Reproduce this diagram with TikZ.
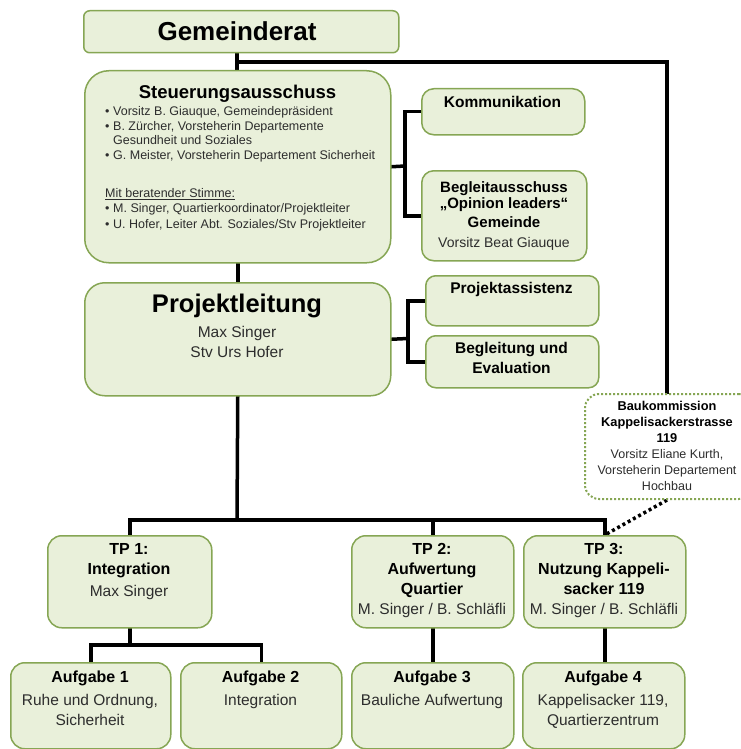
\documentclass[tikz,border=0pt]{standalone}
\usepackage{fontspec}
\setmainfont{Liberation Sans}
\usetikzlibrary{calc,backgrounds}
\definecolor{boxfill}{RGB}{233,240,218}
\definecolor{boxline}{RGB}{134,166,84}
\definecolor{txtgray}{RGB}{45,45,45}
\newcommand\stbul{\makebox[8pt][l]{\textbullet}}
\newcommand\bhd[1]{{\color{black}\bfseries #1}}
\begin{document}
\begin{tikzpicture}[x=1pt,y=-1pt,
  box/.style={draw=boxline, fill=boxfill, line width=1.5pt, rounded corners=#1, inner sep=0pt, anchor=north west},
  box/.default=12pt,
  txt/.style={inner sep=0pt, anchor=north, align=center, text=txtgray, font=\fontsize{15.5}{20}\selectfont},
  conn/.style={draw=black, line width=3.5pt, line join=miter, line cap=rect},
  dotconn/.style={draw=black, line width=3.5pt, dash pattern=on 3pt off 3pt}]
\useasboundingbox (0,0) rectangle (740,749);

% boxes
\node[box=6pt, minimum width=315pt, minimum height=42pt] (gem) at (83,10) {};
\node[box=24pt, minimum width=306pt, minimum height=192pt] (st) at (84,70) {};
\node[box=12pt, minimum width=163pt, minimum height=46pt] (kom) at (421,88) {};
\node[box=12pt, minimum width=165pt, minimum height=90pt] (beg) at (421,170) {};
\node[box=20pt, minimum width=306pt, minimum height=113pt] (pl) at (84,282) {};
\node[box=10pt, minimum width=173pt, minimum height=50pt] (pa) at (425,275) {};
\node[box=10pt, minimum width=173pt, minimum height=52pt] (be) at (425,335) {};
\node[draw=boxline, fill=white, dotted, line width=2pt, rounded corners=14pt, minimum width=168pt, minimum height=105pt, anchor=north west, inner sep=0pt] (bau) at (584,393) {};
\node[box=14pt, minimum width=164pt, minimum height=92pt] (tp1) at (47,535) {};
\node[box=14pt, minimum width=162pt, minimum height=92pt] (tp2) at (351,535) {};
\node[box=14pt, minimum width=162pt, minimum height=92pt] (tp3) at (523,535) {};
\node[box=14pt, minimum width=160pt, minimum height=86pt] (a1) at (10,662) {};
\node[box=14pt, minimum width=161pt, minimum height=86pt] (a2) at (180,662) {};
\node[box=14pt, minimum width=162pt, minimum height=86pt] (a3) at (351,662) {};
\node[box=14pt, minimum width=162pt, minimum height=86pt] (a4) at (522,662) {};

% texts
\node[txt, font=\fontsize{26}{30}\selectfont] (gemT) at (237,21.4) {\bhd{Gemeinderat}};
\node[txt, font=\fontsize{18.5}{22}\selectfont] (stT) at (237.5,84.7) {\bhd{Steuerungsausschuss}};
\node[inner sep=0pt, anchor=north west, align=left, text=txtgray, font=\fontsize{12.5}{13.5}\selectfont] (stL) at (105,106) {%
\stbul Vorsitz B. Giauque, Gemeindepräsident\\[2pt]
\stbul B. Zürcher, Vorsteherin Departemente\\
\hspace*{8pt}Gesundheit und Soziales\\[2pt]
\stbul G. Meister, Vorsteherin Departement Sicherheit\\[24pt]
\underline{Mit beratender Stimme:}\\[2pt]
\stbul M. Singer, Quartierkoordinator/Projektleiter\\[2pt]
\stbul U. Hofer, Leiter Abt. Soziales/Stv Projektleiter};
\node[txt] (komT) at (502.5,96) {\bhd{Kommunikation}};
\node[txt, font=\fontsize{14}{18}\selectfont] (begT) at (504,181) {{\fontsize{15}{18}\selectfont\bhd{Begleitausschuss}}\\[-2pt]
{\fontsize{15}{18}\selectfont\bhd{„Opinion leaders“}}\\[1pt]
{\fontsize{15}{18}\selectfont\bhd{Gemeinde}}\\[2pt]
Vorsitz Beat Giauque};
\node[txt] (plT) at (237,293.7) {{\fontsize{25.5}{28}\selectfont\bhd{Projektleitung}}\\[5pt]
Max Singer\\ Stv Urs Hofer};
\node[txt] (paT) at (511.5,282) {\bhd{Projektassistenz}};
\node[txt] (beT) at (511.5,342) {\bhd{Begleitung und}\\ \bhd{Evaluation}};
\node[txt, font=\fontsize{12.5}{16}\selectfont] (bauT) at (667,401) {{\fontsize{12.8}{16}\selectfont\bhd{Baukommission}}\\
{\fontsize{12.8}{16}\selectfont\bhd{Kappelisackerstrasse}}\\
{\fontsize{12.8}{16}\selectfont\bhd{119}}\\
Vorsitz Eliane Kurth,\\ Vorsteherin Departement\\ Hochbau};
\node[txt] (tp1T) at (129,543.5) {{\fontsize{16}{20}\selectfont\bhd{TP 1:}}\\
{\fontsize{16}{20}\selectfont\bhd{Integration}}\\[2pt]
Max Singer};
\node[txt] (tp2T) at (432,543.5) {{\fontsize{16}{20}\selectfont\bhd{TP 2:}}\\
{\fontsize{16}{20}\selectfont\bhd{Aufwertung}}\\
{\fontsize{16}{20}\selectfont\bhd{Quartier}}\\
M. Singer / B. Schläfli};
\node[txt] (tp3T) at (604,543.5) {{\fontsize{16}{20}\selectfont\bhd{TP 3:}}\\
{\fontsize{16}{20}\selectfont\bhd{Nutzung Kappeli-}}\\
{\fontsize{16}{20}\selectfont\bhd{sacker 119}}\\
M. Singer / B. Schläfli};
\node[txt] (a1T) at (90,670.5) {{\fontsize{16}{20}\selectfont\bhd{Aufgabe 1}}\\[3pt]
Ruhe und Ordnung,\\ Sicherheit};
\node[txt] (a2T) at (260.5,670.5) {{\fontsize{16}{20}\selectfont\bhd{Aufgabe 2}}\\[3pt]
Integration};
\node[txt] (a3T) at (432,670.5) {{\fontsize{16}{20}\selectfont\bhd{Aufgabe 3}}\\[3pt]
Bauliche Aufwertung};
\node[txt] (a4T) at (603,670.5) {{\fontsize{16}{20}\selectfont\bhd{Aufgabe 4}}\\[3pt]
Kappelisacker 119,\\ Quartierzentrum};

% connectors
\begin{scope}[on background layer]
\coordinate (j1) at (237,62);
\coordinate (b1) at (405,166);
\coordinate (b2) at (408,338.5);
\coordinate (bus) at (237,520);
\coordinate (j3) at (175,645);
\draw[conn] (gem.south -| j1) -- (st.north -| j1);
\draw[conn] (j1) -| ([xshift=-2pt]bau.north);
\draw[conn] (st.south) -- (pl.north);
\draw[conn] (st.east) -- (b1);
\draw[conn] (kom.west) -| (b1) |- (beg.west);
\draw[conn] (pl.east) -- (b2);
\draw[conn] (pa.west) -| (b2) |- (be.west);
\draw[conn] (pl.south) -- (bus);
\draw[conn] (tp1.north) |- (bus) -| (tp3.north);
\draw[conn] (tp2.north |- bus) -- (tp2.north);
\draw[conn] (tp1.south) -- (tp1.south |- j3);
\draw[conn] (a1.north) |- (j3) -| (a2.north);
\draw[conn] (tp2.south) -- (a3.north);
\draw[conn] (tp3.south) -- (tp3.south |- a4.north);
\draw[dotconn] ([xshift=-2pt]bau.south) -- (tp3.north);
\end{scope}
\end{tikzpicture}
\end{document}
